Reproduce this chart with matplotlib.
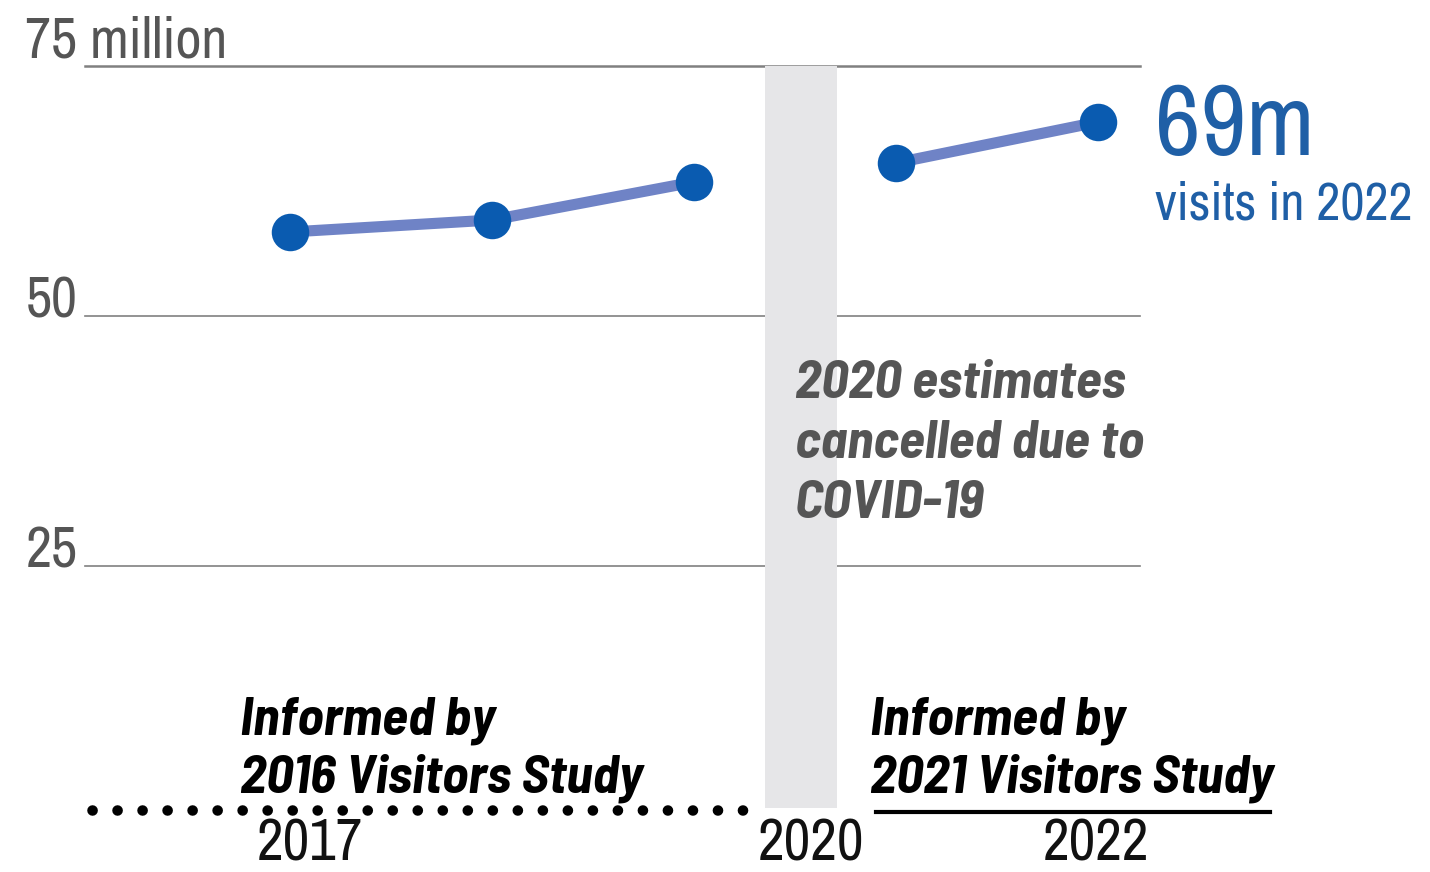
import matplotlib
matplotlib.use("Agg")
import matplotlib.pyplot as plt

# ── Data ──────────────────────────────────────────────────────────────────────
years_a  = [2017, 2018, 2019]
visits_a = [58.4, 59.6, 63.4]     # million visits, 2016 study
years_b  = [2021, 2022]
visits_b = [65.3, 69.4]           # million visits, 2021 study
y_ticks  = [25, 50, 75]
y_labels = ["25", "50", "75 million"]
year_labels = ["2017", "2020", "2022"]

# compressed x layout: 2020 squeezed into a narrow band
def xpos(y):
    return {2017: 0, 2018: 1, 2019: 2, 2020: 2.53, 2021: 3, 2022: 4}[y]

REG = ['Archivo Narrow', 'DejaVu Sans']
ITB = ['Barlow Semi Condensed', 'DejaVu Sans']
plt.rcParams['font.family'] = REG

LINE  = '#6f83c6'
DOT   = '#0a5bb0'
BLUE  = '#1f5fa6'
GREY  = '#555555'

fig = plt.figure(figsize=(14.3, 8.72), dpi=100)
ax = fig.add_axes([0, 0, 1, 1])
ax.set_xlim(-1.436, 5.644)
ax.set_ylim(-5.6, 81.6)
ax.axis('off')

# ── grid and 2020 band ────────────────────────────────────────────────────────
for t in y_ticks:
    ax.plot([-1.015, 4.21], [t, t], color='#808080', lw=1.8 if t == 75 else 1.2, zorder=1)
ax.fill_betweenx([0.8, 75], 2.35, 2.71, color='#e6e6e8', lw=0, zorder=2)

for t, lab in zip(y_ticks, y_labels):
    ax.text(-1.31, t + (0.8 if t == 75 else -0.2), lab, fontsize=41, color=GREY,
            ha='left', va='baseline', zorder=3)

# ── series ────────────────────────────────────────────────────────────────────
for yrs, vals in [(years_a, visits_a), (years_b, visits_b)]:
    xs = [xpos(y) for y in yrs]
    ax.plot(xs, vals, color=LINE, lw=8, solid_capstyle='butt', zorder=4)
    ax.plot(xs, vals, 'o', color=DOT, ms=27, mec='none', zorder=5)

ax.text(4.28, 66.1, "69m", fontsize=72, color=BLUE, ha='left', va='baseline')
ax.text(4.28, 59.6, "visits in 2022", fontsize=38, color=BLUE, ha='left', va='baseline')

# ── COVID note ────────────────────────────────────────────────────────────────
for i, line in enumerate(["2020 estimates", "cancelled due to", "COVID-19"]):
    ax.text(2.5, 41.8 - 6 * i, line, fontsize=39, color=GREY, style='italic',
            weight='bold', family=ITB, ha='left', va='baseline', zorder=6)

# ── study brackets ────────────────────────────────────────────────────────────
ax.plot([-0.98, 2.26], [0.6, 0.6], color='black', lw=7.6,
        linestyle=(0, (0.01, 2.36)), dash_capstyle='round', zorder=6)
ax.plot([2.9, 4.85], [0.4, 0.4], color='black', lw=3, zorder=6)

notes = [(-0.25, "Informed by", "2016 Visitors Study"),
         (2.87, "Informed by", "2021 Visitors Study")]
for x0, l1, l2 in notes:
    ax.text(x0, 8.1, l1, fontsize=39, style='italic', weight='bold', family=ITB,
            ha='left', va='baseline', zorder=7)
    ax.text(x0, 2.3, l2, fontsize=39, style='italic', weight='bold', family=ITB,
            ha='left', va='baseline', zorder=7)

for yr, lab in zip([2017, 2020, 2022], year_labels):
    dx = 0.1 if yr == 2017 else (0.05 if yr == 2020 else -0.01)
    ax.text(xpos(yr) + dx, -5.45, lab, fontsize=42, color='#111111',
            ha='center', va='bottom')

fig.savefig("out.png", dpi=100)
